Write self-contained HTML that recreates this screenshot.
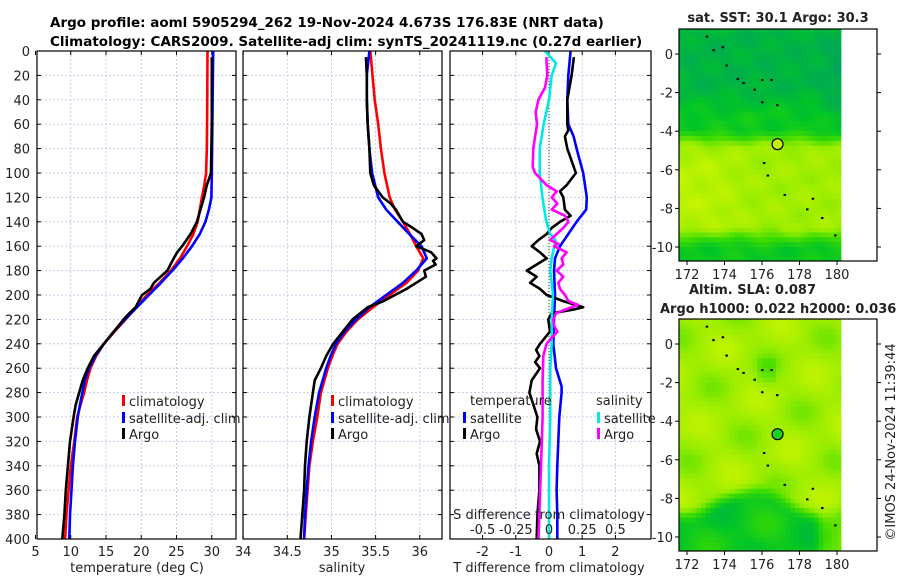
<!DOCTYPE html>
<html><head><meta charset="utf-8"><style>
body{margin:0;background:#fff;}
svg{display:block;font-family:"DejaVu Sans","Liberation Sans",sans-serif;}
</style></head><body>
<svg id="fig" width="900" height="580" viewBox="0 0 900 580">
<text x="50" y="27" font-size="13.5" font-weight="bold">Argo profile: aoml 5905294_262 19-Nov-2024 4.673S 176.83E (NRT data)</text>
<text x="50" y="46" font-size="13.5" font-weight="bold">Climatology: CARS2009. Satellite-adj clim: synTS_20241119.nc (0.27d earlier)</text>
</svg>
<script>
// ---------- data ----------
const depthTicks=[0,20,40,60,80,100,120,140,160,180,200,220,240,260,280,300,320,340,360,380,400];
const tempTicks=[5,10,15,20,25,30];
const salTicks=[34,34.5,35,35.5,36];
const tdiffTicks=[-2,-1,0,1,2];
const sdiffTicks=[-0.5,-0.25,0,0.25,0.5];
const sdiffLabels=["-0.5","-0.25","0","0.25","0.5"];
const latTicks=[0,-2,-4,-6,-8,-10];
const lonTicks=[172,174,176,178,180];

const climTD=[0,50,80,100,110,120,130,140,150,160,170,180,190,200,210,220,230,240,250,260,270,280,290,300,320,340,360,380,400];
const climT=[29.4,29.35,29.3,29.2,28.95,28.6,28.3,28.0,27.4,26.5,25.5,24.2,22.6,20.8,19.3,17.8,16.2,14.7,13.6,12.8,12.3,11.9,11.4,10.9,10.5,10.0,9.7,9.4,9.2];
const satTD=[0,50,100,120,130,140,150,160,170,180,190,200,210,220,230,240,250,260,270,280,290,300,320,340,360,380,400];
const satT=[30.2,30.1,30.0,29.95,29.6,29.1,28.3,27.2,25.9,24.4,22.8,21.1,19.4,17.7,16.1,14.7,13.5,12.6,12.0,11.65,11.3,11.0,10.6,10.3,10.1,9.9,9.8];
const argoTD=[5,60,100,110,120,130,140,150,160,165,170,180,190,195,200,210,215,220,230,240,250,260,270,280,290,300,320,340,360,380,400];
const argoT=[30.0,30.0,29.9,29.3,28.9,28.4,27.9,27.0,25.8,25.1,24.6,23.7,21.8,21.3,20.1,19.2,18.3,17.5,16.1,14.7,13.3,12.4,11.7,11.2,10.7,10.4,9.9,9.6,9.3,9.1,8.8];

const climSD=[0,40,60,80,100,120,130,140,150,160,170,180,190,200,210,220,230,240,250,260,280,300,320,340,360,380,400];
const climS=[35.44,35.49,35.53,35.56,35.6,35.66,35.72,35.81,35.89,35.96,36.04,35.98,35.85,35.66,35.47,35.3,35.17,35.07,35.01,34.96,34.88,34.84,34.79,34.75,34.73,34.71,34.69];
const satSD=[0,20,40,60,80,100,120,130,140,150,160,170,180,190,200,210,220,230,240,250,260,280,300,320,340,360,380,400];
const satS=[35.43,35.40,35.40,35.41,35.43,35.46,35.53,35.62,35.75,35.88,36.02,36.08,35.96,35.81,35.62,35.43,35.28,35.15,35.05,34.99,34.94,34.86,34.81,34.77,34.74,34.72,34.70,34.69];
const argoSD=[5,20,40,60,80,100,110,120,125,130,140,145,150,155,160,165,170,172,175,180,185,190,195,200,205,210,220,230,240,250,260,270,280,300,320,340,360,380,400];
const argoS=[35.39,35.40,35.40,35.41,35.43,35.44,35.48,35.58,35.67,35.73,35.81,35.92,36.02,36.05,35.96,36.13,36.19,36.15,36.18,36.05,36.07,35.96,35.85,35.72,35.59,35.41,35.24,35.13,35.02,34.94,34.88,34.81,34.79,34.75,34.72,34.70,34.69,34.67,34.65];

const satTdD=[0,20,40,60,70,80,100,120,130,140,150,160,170,180,200,220,240,260,275,280,300,320,340,360,380,400];
const satTd=[0.65,0.58,0.55,0.58,0.74,0.83,1.03,1.14,1.12,0.83,0.58,0.33,0.18,0.15,0.18,0.15,0.13,0.21,0.38,0.38,0.31,0.28,0.25,0.23,0.25,0.25];
const argoTdD=[5,20,40,60,65,70,80,90,100,110,115,120,130,135,140,145,150,155,160,165,170,175,180,185,190,195,200,205,210,212,215,220,230,240,245,250,255,260,270,280,290,300,310,320,330,340,360,380,400];
const argoTd=[0.75,0.68,0.55,0.55,0.58,0.48,0.55,0.68,0.81,0.53,0.33,0.43,0.48,0.65,0.33,0.08,-0.07,-0.32,-0.52,-0.27,-0.07,-0.37,-0.67,-0.37,-0.57,-0.27,-0.07,0.43,1.03,0.73,0.08,-0.02,0.03,-0.27,-0.39,-0.29,-0.42,-0.27,-0.52,-0.59,-0.47,-0.35,-0.39,-0.27,-0.37,-0.29,-0.29,-0.35,-0.37];
const satSdD=[0,10,20,40,60,80,100,120,140,150,155,160,170,180,200,220,240,260,300,340,400];
const satSd=[-0.03,0.053,0.02,0.0,-0.04,-0.07,-0.07,-0.05,-0.02,0.01,0.05,0.04,0.02,0.01,0.03,0.02,0.02,0.01,0.01,0.0,0.0];
const argoSdD=[5,20,30,40,50,60,70,80,95,100,110,115,120,125,130,135,140,145,150,155,158,160,165,170,175,180,185,190,195,200,205,208,212,215,220,225,230,235,240,250,270,300,340,380,400];
const argoSd=[-0.02,-0.013,-0.03,-0.08,-0.1,-0.09,-0.105,-0.118,-0.123,-0.105,-0.018,0.058,0.02,0.063,0.02,0.121,0.146,0.108,0.058,0.008,0.07,0.038,0.133,0.095,0.108,0.058,0.108,0.07,0.083,0.121,0.146,0.22,0.121,0.053,0.033,0.038,0.063,0.02,-0.018,-0.043,-0.048,-0.048,-0.06,-0.073,-0.08];

const profLon=[176.83];
const profLat=[-4.673];
const islandLon=[173.05,173.4,173.9,174.1,174.7,175.0,175.6,176.0,176.5,176.0,176.8,176.1,176.3,177.2,178.4,178.7,179.2,179.9];
const islandLat=[0.9,0.2,0.35,-0.6,-1.3,-1.5,-1.85,-1.35,-1.35,-2.5,-2.65,-5.65,-6.3,-7.3,-8.05,-7.5,-8.5,-9.4];

// ---------- helpers ----------
const NS="http://www.w3.org/2000/svg";
const svg=document.getElementById('fig');
function mk(tag,attrs,parent){const e=document.createElementNS(NS,tag);for(const k in attrs)e.setAttribute(k,attrs[k]);(parent||svg).appendChild(e);return e;}
const Y0=51,YS=1.22,YB=539;
const yD=d=>Y0+d*YS;
const xT=t=>35.5+(t-5)*7.05;
const xS=s=>287.3+(s-34.5)*88.3;
const xTd=v=>549+v*33.2;
const xSd=v=>549+v*132.8;
const panels=[{x0:37,x1:236},{x0:243,x1:442},{x0:450,x1:651}];

function grid(p,xs,i){
  const g=mk('g',{});
  
  
  xs.forEach(x=>{if(x>p.x0+1&&x<p.x1-1)mk('line',{x1:x,x2:x,y1:Y0,y2:YB,stroke:'#c4cdea','stroke-width':1,'stroke-dasharray':'2,2'},g);});
  depthTicks.forEach(d=>{const y=yD(d);if(d>0&&d<400)mk('line',{x1:p.x0,x2:p.x1,y1:y,y2:y,stroke:'#c4cdea','stroke-width':1,'stroke-dasharray':'2,2'},g);
    mk('line',{x1:p.x0,x2:p.x0+4,y1:y,y2:y,stroke:'#000'},g);mk('line',{x1:p.x1-4,x2:p.x1,y1:y,y2:y,stroke:'#000'},g);});
  xs.forEach(x=>{mk('line',{x1:x,x2:x,y1:YB,y2:YB-4,stroke:'#000'},g);mk('line',{x1:x,x2:x,y1:Y0,y2:Y0+4,stroke:'#000'},g);});
}
function frame(p,i){const r=mk('rect',{x:p.x0,y:Y0,width:p.x1-p.x0,height:YB-Y0,fill:'none',stroke:'#000','stroke-width':1.2});
  }
function line(ds,vs,fx,color,name){
  const pts=ds.map((d,k)=>fx(vs[k]).toFixed(1)+','+yD(d).toFixed(1)).join(' ');
  const e=mk('polyline',{points:pts,fill:'none',stroke:color,'stroke-width':2.6,'stroke-linejoin':'round'});
  
  
}
function txt(x,y,s,attrs,name){const e=mk('text',Object.assign({x:x,y:y,'font-size':13,fill:'#222'},attrs||{}));e.textContent=s;
  return e;}
function legendItem(x,y,color,label,name){
  const g=mk('g',{});
  mk('rect',{x:x,y:y-6,width:3,height:11,fill:color},g);
  const t=mk('text',{x:x+7,y:y+5,'font-size':13,fill:'#222'},g);t.textContent=label;
}

grid(panels[0],tempTicks.map(xT),0);
grid(panels[1],salTicks.map(xS),1);
grid(panels[2],tdiffTicks.map(xTd),2);

depthTicks.forEach(d=>txt(30,yD(d)+5,String(d),{'text-anchor':'end'},'y-tick-label'));
tempTicks.forEach(t=>txt(xT(t),556,String(t),{'text-anchor':'middle'},'temp-tick-label'));
salTicks.forEach(s=>txt(xS(s),556,String(s),{'text-anchor':'middle'},'sal-tick-label'));
tdiffTicks.forEach(t=>txt(xTd(t),556,String(t),{'text-anchor':'middle'},'tdiff-tick-label'));
txt(137,572,'temperature (deg C)',{'text-anchor':'middle'},'x-axis-title-temperature');
txt(342,572,'salinity',{'text-anchor':'middle'},'x-axis-title-salinity');
txt(549,572,'T difference from climatology',{'text-anchor':'middle'},'x-axis-title-tdiff');

line(climTD,climT,xT,'#ff0000','temp-climatology-line');
line(satTD,satT,xT,'#0000ff','temp-satellite-line');
line(argoTD,argoT,xT,'#000000','temp-argo-line');
line(climSD,climS,xS,'#ff0000','sal-climatology-line');
line(satSD,satS,xS,'#0000ff','sal-satellite-line');
line(argoSD,argoS,xS,'#000000','sal-argo-line');
mk('line',{x1:xTd(0),x2:xTd(0),y1:Y0,y2:YB,stroke:'#333','stroke-width':1,'stroke-dasharray':'1,2'});
line(satTdD,satTd,xTd,'#0000ff','tdiff-satellite-line');
line(argoTdD,argoTd,xTd,'#000000','tdiff-argo-line');
line(satSdD,satSd,xSd,'#00e8e8','sdiff-satellite-line');
line(argoSdD,argoSd,xSd,'#ff00ff','sdiff-argo-line');

panels.forEach((p,i)=>frame(p,i));

legendItem(122,401,'#ff0000','climatology','legend-climatology');
legendItem(122,418,'#0000ff','satellite-adj. clim','legend-satellite-adj');
legendItem(122,434,'#000000','Argo','legend-argo');
legendItem(331,401,'#ff0000','climatology','legend2-climatology');
legendItem(331,418,'#0000ff','satellite-adj. clim','legend2-satellite-adj');
legendItem(331,434,'#000000','Argo','legend2-argo');
txt(470,405,'temperature',{},'legend-temperature-title');
legendItem(463,418,'#0000ff','satellite','legend-t-satellite');
legendItem(463,434,'#000000','Argo','legend-t-argo');
txt(596,405,'salinity',{},'legend-salinity-title');
legendItem(597,418,'#00e8e8','satellite','legend-s-satellite');
legendItem(597,434,'#ff00ff','Argo','legend-s-argo');
txt(549,519,'S difference from climatology',{'text-anchor':'middle'},'s-axis-title');
sdiffTicks.forEach((s,k)=>txt(xSd(s),534,sdiffLabels[k],{'text-anchor':'middle'},'sdiff-tick-label'));

// ---------- maps ----------
const mapX0=679,mapX1=877,lonX=lon=>687+(lon-172)*18.75;
const cmapStops=[[0,[0,160,100]],[0.3,[0,196,40]],[0.55,[60,220,0]],[0.75,[150,236,0]],[1,[205,246,0]]];
function cmap(v){v=Math.max(0,Math.min(1,v));for(let i=1;i<cmapStops.length;i++){const a=cmapStops[i-1],b=cmapStops[i];if(v<=b[0]){const t=(v-a[0])/(b[0]-a[0]);
  return 'rgb('+a[1].map((c,k)=>Math.round(c+(b[1][k]-c)*t)).join(',')+')';}}return 'rgb(205,246,0)';}
function smooth(x,e0,e1){const t=Math.max(0,Math.min(1,(x-e0)/(e1-e0)));return t*t*(3-2*t);}
function valMap1(lat,lon){
  let v=0.17+0.18*smooth(-lat,1.5,3.5)+0.45*smooth(-lat,3.8,5.0)-0.45*smooth(-lat,8.8,10.2);
  v+=0.1*smooth(-lon,-176,-173)*smooth(-lat,4.5,6)*(1-smooth(-lat,8.5,9.5));
  v-=0.08*smooth(lon,178.5,180)*smooth(-lat,-1,0)*(1-smooth(-lat,4,5));
  v+=0.035*Math.sin(lon*3.1+lat*2.3)+0.03*Math.sin(lon*1.3-lat*3.7);
  return v;
}
function valMap2(lat,lon){
  let v=0.8+0.07*Math.sin(lon*1.6+lat*1.1)+0.06*Math.sin(lon*0.8-lat*1.9);
  const edge=-7.6-0.6*Math.cos((lon-172)*0.9);
  v-=0.45*smooth(edge-lat,0,1.2)*(1-0.6*smooth(lon,178.6,179.4));
  v-=0.1*smooth(lon,175.5,176)*(1-smooth(lon,176.5,177))*smooth(-lat,0.5,1)*(1-smooth(-lat,1.8,2.5));
  return v;
}
function drawMap(top,bottom,lat0y,vf,name,circleFill){
  const yL=lat=>lat0y-lat*19.3;
  const g=mk('g',{});
  const step=0.25;
  for(let lat=1.5;lat>-11;lat-=step){for(let lon=171.5;lon<180.2;lon+=step){
    const x=Math.max(lonX(lon),mapX0),x2=Math.min(lonX(lon+step),841);
    const y=Math.max(yL(lat),top),y2=Math.min(yL(lat-step),bottom);
    if(x2>x&&y2>y) mk('rect',{x:x.toFixed(1),y:y.toFixed(1),width:(x2-x+0.4).toFixed(1),height:(y2-y+0.4).toFixed(1),fill:cmap(vf(lat-step/2,lon+step/2))},g);}}
  islandLon.forEach((lo,k)=>mk('rect',{x:lonX(lo)-1,y:yL(islandLat[k])-1,width:2.5,height:2,fill:'#000'},g));
  const c=mk('circle',{cx:lonX(profLon[0]),cy:yL(profLat[0]),r:5.5,fill:circleFill,stroke:'#000','stroke-width':1.2});
  
  mk('rect',{x:mapX0,y:top,width:mapX1-mapX0,height:bottom-top,fill:'none',stroke:'#000','stroke-width':1.2});
  latTicks.forEach(l=>{const y=yL(l);mk('line',{x1:mapX0-4,x2:mapX0,y1:y,y2:y,stroke:'#000'});mk('line',{x1:mapX1,x2:mapX1+4,y1:y,y2:y,stroke:'#000'});
    txt(673,y+5,String(l),{'text-anchor':'end'},'map-lat-label');});
  lonTicks.forEach(l=>{const x=lonX(l);mk('line',{x1:x,x2:x,y1:bottom,y2:bottom+4,stroke:'#000'});
    txt(x,bottom+18,String(l),{'text-anchor':'middle'},'map-lon-label');});
}
drawMap(29,261,54,valMap1,'sst-map','#c4f000');
drawMap(319,551,344,valMap2,'sla-map','#20d020');
txt(778,22,'sat. SST: 30.1  Argo: 30.3',{'text-anchor':'middle','font-weight':'bold'},'sst-map-title');
txt(689,294,'Altim. SLA: 0.087',{'font-weight':'bold'},'sla-map-title');
txt(660,313,'Argo h1000: 0.022 h2000: 0.036',{'font-weight':'bold'},'sla-map-subtitle');
txt(0,0,'©IMOS 24-Nov-2024 11:39:44',{transform:'translate(895,442) rotate(-90)','text-anchor':'middle'},'imos-timestamp');
</script>
</body></html>
